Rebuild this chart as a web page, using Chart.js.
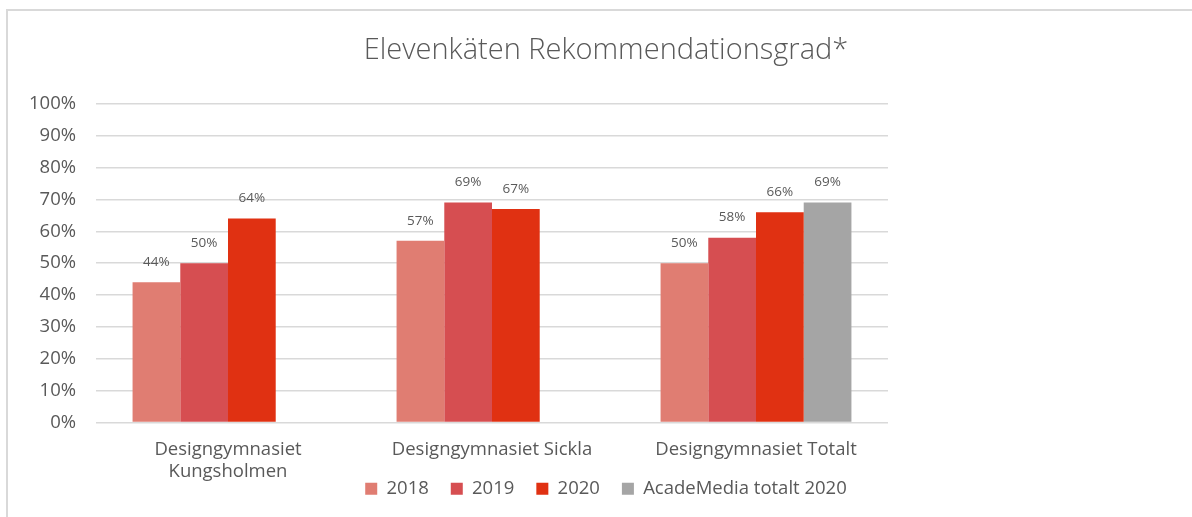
<!DOCTYPE html>
<html>
<head>
<meta charset="utf-8">
<script src="https://cdn.jsdelivr.net/npm/chart.js@4"></script>
<style>
  html, body { margin: 0; padding: 0; background: #fff; }
  body { width: 1192px; height: 517px; position: relative; overflow: hidden; }
  #frame { position: absolute; left: 6px; top: 9px; width: 3000px; height: 3000px;
           border-left: 2px solid #d9d9d9; border-top: 2px solid #d9d9d9; box-sizing: border-box; }
  #wrap { position: absolute; left: 0; top: 0; width: 1192px; height: 517px; }
</style>
</head>
<body>
<div id="frame"></div>
<div id="wrap"><canvas id="c" width="1192" height="517"></canvas></div>
<script>
const categories = [["Designgymnasiet", "Kungsholmen"], "Designgymnasiet Sickla", "Designgymnasiet Totalt"];
const seriesNames = ["2018", "2019", "2020", "AcadeMedia totalt 2020"];
const values2018 = [44, 57, 50];
const values2019 = [50, 69, 58];
const values2020 = [64, 67, 66];
const valuesAcadeMedia2020 = [null, null, 69];
const yTicks = [0, 10, 20, 30, 40, 50, 60, 70, 80, 90, 100];
const colors = ["#E07D72", "#D64E51", "#E03112", "#A5A5A5"];

const TEXT = "#595959";
const FONT = "'Open Sans', 'DejaVu Sans', sans-serif";

const valueLabels = {
  id: "valueLabels",
  afterDatasetsDraw(chart) {
    const ctx = chart.ctx;
    ctx.save();
    ctx.fillStyle = TEXT;
    ctx.font = "13.5px " + FONT;
    ctx.textAlign = "center";
    ctx.textBaseline = "middle";
    chart.data.datasets.forEach((ds, i) => {
      const meta = chart.getDatasetMeta(i);
      meta.data.forEach((el, j) => {
        const v = ds.data[j];
        if (v === null || v === undefined) return;
        ctx.fillText(v + "%", el.x, el.y - 20);
      });
    });
    ctx.restore();
  }
};

new Chart(document.getElementById("c"), {
  type: "bar",
  data: {
    labels: categories,
    datasets: [
      { label: seriesNames[0], data: values2018, backgroundColor: colors[0] },
      { label: seriesNames[1], data: values2019, backgroundColor: colors[1] },
      { label: seriesNames[2], data: values2020, backgroundColor: colors[2] },
      { label: seriesNames[3], data: valuesAcadeMedia2020, backgroundColor: colors[3] }
    ]
  },
  options: {
    responsive: false,
    animation: false,
    devicePixelRatio: 1,
    layout: { padding: { left: 20, top: 33, bottom: 9, right: 0 } },
    datasets: { bar: { categoryPercentage: 0.723, barPercentage: 1.0, borderWidth: 0 } },
    plugins: {
      title: {
        display: true,
        text: "Elevenkäten Rekommendationsgrad*",
        color: TEXT,
        font: { family: FONT, size: 29, weight: "300" },
        padding: { top: 0, bottom: 36 }
      },
      legend: {
        position: "bottom",
        labels: {
          color: TEXT,
          font: { family: FONT, size: 18.5 },
          boxWidth: 12,
          boxHeight: 12,
          padding: 22
        }
      },
      tooltip: { enabled: false }
    },
    scales: {
      x: {
        grid: { display: false, drawTicks: false },
        border: { display: false },
        ticks: { color: TEXT, font: { family: FONT, size: 18.5 }, padding: 16, maxRotation: 0, autoSkip: false },
        afterFit(s) { s.height = 35; s._computeLabelArea = () => undefined; }
      },
      y: {
        min: 0, max: 100,
        afterBuildTicks(s) { s.ticks = yTicks.map(v => ({ value: v })); },
        grid: { color: "#d9d9d9", lineWidth: 1.5, drawTicks: false },
        border: { display: false },
        ticks: { color: TEXT, font: { family: FONT, size: 18.5 }, padding: 20, callback: v => v + "%" },
        afterFit(s) { s.width = 76; }
      },
      y2: {
        position: "right",
        display: true,
        grid: { display: false },
        border: { display: false },
        ticks: { display: false },
        afterFit(s) { s.width = 304; }
      }
    }
  },
  plugins: [valueLabels]
});
</script>
</body>
</html>
